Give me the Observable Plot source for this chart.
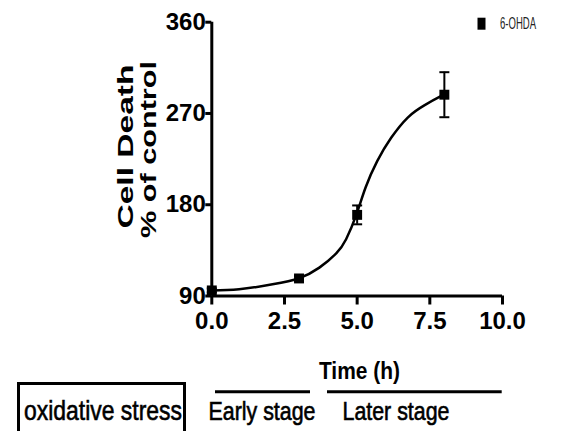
<!DOCTYPE html>
<html>
<head>
<meta charset="utf-8">
<script src="https://cdn.jsdelivr.net/npm/d3@7"></script>
<script src="https://cdn.jsdelivr.net/npm/@observablehq/plot@0.6"></script>
<style>
  html, body { margin: 0; padding: 0; background: #fff; }
  body { width: 569px; height: 431px; overflow: hidden; }
  #chart svg, #caption svg { display: block; }
</style>
</head>
<body>
<div id="chart"></div>
<div id="caption"></div>
<script>
// ---- data ----
const timeH = [0, 3, 5, 8];
const meanDeath = [95.5, 107.3, 170, 288.5];
const semDeath = [2, 2.5, 9.3, 22.2];
const fitTime = [0, 0.94, 2.09, 3.0, 3.7, 4.28, 4.62, 4.97, 5.29, 5.69, 6.17, 6.74, 7.31, 7.88, 8.0];
const fitDeath = [95.5, 96.6, 101.5, 107.5, 118, 132, 146, 170, 197, 223, 246, 266, 278, 287, 288.5];
const xTicks = [0, 2.5, 5, 7.5, 10];
const yTicks = [90, 180, 270, 360];
const seriesName = "6-OHDA";
const xLabel = "Time (h)";
const yLabelLines = ["Cell Death", "% of control"];
const boxLabel = "oxidative stress";
const stageLabels = ["Early stage", "Later stage"];

// ---- tables built from the arrays ----
const points = timeH.map((t, i) => ({t, m: meanDeath[i], s: semDeath[i]}));
const fit = fitTime.map((t, i) => ({t, v: fitDeath[i]}));

// ---- layout ----
const W = 569, H = 380;
const FONT = "'Liberation Sans', Arial, Helvetica, sans-serif";
const capSymbol = {draw(ctx, size) { const r = Math.sqrt(size / Math.PI); ctx.moveTo(-r, 0); ctx.lineTo(r, 0); }};
const legendSymbol = {draw(ctx) { ctx.rect(-4, -6, 8, 12); }};

const chart = Plot.plot({
  width: W, height: H,
  marginLeft: 211.3, marginRight: 67, marginTop: 21.7, marginBottom: H - 295.5,
  style: {fontFamily: FONT, background: "#fff", color: "#000", overflow: "visible"},
  x: {domain: [0, 10], label: null},
  y: {domain: [90, 360], label: null},
  marks: [
    Plot.axisX({ticks: xTicks, tickFormat: d3.format(".1f"), tickSize: 9, tickPadding: 7, strokeWidth: 3, fontSize: 24, fontWeight: "bold", label: null}),
    Plot.axisY({ticks: yTicks, tickSize: 6, tickPadding: 0, strokeWidth: 3, fontSize: 24, fontWeight: "bold", label: null}),
    Plot.ruleX([0], {strokeWidth: 3}),
    Plot.ruleY([90], {strokeWidth: 3}),
    Plot.line(fit, {x: "t", y: "v", curve: "natural", strokeWidth: 2.5}),
    Plot.ruleX(points, {x: "t", y1: d => d.m - d.s, y2: d => d.m + d.s, strokeWidth: 2}),
    Plot.dot(points, {x: "t", y: d => d.m + d.s, symbol: capSymbol, r: 5, stroke: "#000", strokeWidth: 2}),
    Plot.dot(points, {x: "t", y: d => d.m - d.s, symbol: capSymbol, r: 5, stroke: "#000", strokeWidth: 2}),
    Plot.dot(points, {x: "t", y: "m", symbol: "square", r: 5.6, fill: "#000"}),
    // legend
    Plot.dot([seriesName], {frameAnchor: "top-right", dx: -21, dy: 1.5, symbol: legendSymbol, fill: "#000"}),
    Plot.text([seriesName], {frameAnchor: "top-right", dx: -2.5, dy: 1.5, textAnchor: "start", lineAnchor: "middle", fontSize: 17, fill: "#222"}),
    // axis titles
    Plot.text([xLabel], {frameAnchor: "bottom", dx: 2.3, dy: 67, lineAnchor: "top", fontSize: 23, fontWeight: "bold"}),
    Plot.text([yLabelLines[0]], {frameAnchor: "left", textAnchor: "middle", lineAnchor: "middle", rotate: -90, dx: 125 - 211.3, dy: 146 - 158.6, fontSize: 22, fontWeight: "bold"}),
    Plot.text([yLabelLines[1]], {frameAnchor: "left", textAnchor: "middle", lineAnchor: "middle", rotate: -90, dx: 148 - 211.3, dy: 149 - 158.6, fontSize: 22, fontWeight: "bold"})
  ]
});
document.getElementById("chart").append(chart);

// horizontal squeeze / stretch of texts to match the reference's distorted lettering
const textLengths = new Map([[seriesName, 36], [xLabel, 81], [yLabelLines[0], 164], [yLabelLines[1], 177]]);
d3.select(chart).selectAll("text").each(function() {
  const len = textLengths.get(this.textContent);
  if (len) { this.setAttribute("textLength", len); this.setAttribute("lengthAdjust", "spacingAndGlyphs"); }
});

// ---- caption below the chart (stage annotations) ----
const cap = d3.create("svg").attr("width", W).attr("height", 431 - H).style("overflow", "visible")
  .attr("font-family", FONT);
cap.append("rect").attr("x", 18.5).attr("y", 3.5).attr("width", 166).attr("height", 90)
  .attr("fill", "none").attr("stroke", "#000").attr("stroke-width", 3);
cap.append("text").attr("x", 24).attr("y", 40).attr("font-size", 28).text(boxLabel)
  .attr("stroke", "#000").attr("stroke-width", 0.6)
  .attr("textLength", 158).attr("lengthAdjust", "spacingAndGlyphs");
const stages = [{x1: 215, x2: 310, tx: 208.5}, {x1: 327, x2: 501.7, tx: 342.5}];
stages.forEach((s, i) => {
  cap.append("line").attr("x1", s.x1).attr("x2", s.x2).attr("y1", 11.7).attr("y2", 11.7)
    .attr("stroke", "#000").attr("stroke-width", 3);
  cap.append("text").attr("x", s.tx).attr("y", 40).attr("font-size", 25).text(stageLabels[i])
    .attr("stroke", "#000").attr("stroke-width", 0.6)
    .attr("textLength", 107).attr("lengthAdjust", "spacingAndGlyphs");
});
document.getElementById("caption").append(cap.node());
</script>
</body>
</html>
